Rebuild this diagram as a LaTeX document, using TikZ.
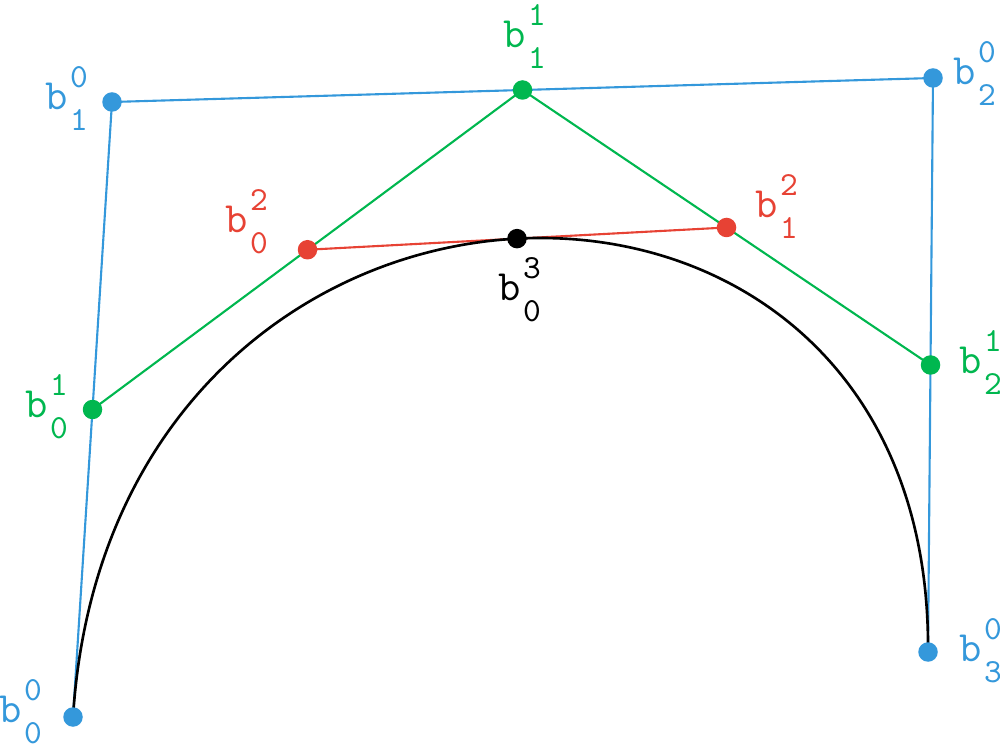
\documentclass[tikz,border=0pt]{standalone}
\usetikzlibrary{calc}
\definecolor{cblue}{RGB}{52,152,219}
\definecolor{cgreen}{RGB}{0,183,79}
\definecolor{cred}{RGB}{231,66,52}
\tikzset{
  lb/.style={font=\fontsize{12.3}{14}\selectfont\ttfamily, inner sep=0pt, anchor=base},
  sc/.style={font=\fontsize{9.6}{11}\selectfont\ttfamily, inner sep=0pt, anchor=base},
  dot/.style={circle, fill=#1, draw=none, inner sep=0pt, minimum size=19.5*0.01cm},
  seg/.style={draw=#1, line width=0.6pt},
}
\newcommand\blab[5]{%
  \node[lb,text=#5] (#1) at (#2) {b};
  \node[sc,text=#5] (#1u) at ($(#2)+(22,-22)$) {#3};
  \node[sc,text=#5] (#1d) at ($(#2)+(22,21)$) {#4};
}
\begin{document}
\begin{tikzpicture}[x=0.01cm,y=-0.01cm]
\useasboundingbox (0,0) rectangle (1000,749);
\coordinate (c00) at (73,717);
\coordinate (c10) at (112,102);
\coordinate (c20) at (933,78);
\coordinate (c30) at (928,652);
\coordinate (c01) at ($(c00)!0.5!(c10)$);
\coordinate (c11) at ($(c10)!0.5!(c20)$);
\coordinate (c21) at ($(c20)!0.5!(c30)$);
\coordinate (c02) at ($(c01)!0.5!(c11)$);
\coordinate (c12) at ($(c11)!0.5!(c21)$);
\coordinate (c03) at ($(c02)!0.5!(c12)$);
% control polygon
\draw[seg=cblue] (c00) -- (c10) -- (c20) -- (c30);
\draw[seg=cgreen] (c01) -- (c11) -- (c21);
\draw[seg=cred] (c02) -- (c12);
% curve
\draw[black, line width=0.75pt] (c00) .. controls (c10) and (c20) .. (c30);
% dots
\node[dot=cblue] (p00) at (c00) {};
\node[dot=cblue] (p10) at (c10) {};
\node[dot=cblue] (p20) at (c20) {};
\node[dot=cblue] (p30) at (c30) {};
\node[dot=cgreen] (p01) at (c01) {};
\node[dot=cgreen] (p11) at (c11) {};
\node[dot=cgreen] (p21) at (c21) {};
\node[dot=cred] (p02) at (c02) {};
\node[dot=cred] (p12) at (c12) {};
\node[dot=black] (p03) at (c03) {};
% labels
\blab{l00}{11,722}{0}{0}{cblue}
\blab{l10}{57,110}{0}{1}{cblue}
\blab{l20}{965,85}{0}{2}{cblue}
\blab{l30}{971,661}{0}{3}{cblue}
\blab{l01}{37,418}{1}{0}{cgreen}
\blab{l11}{515,48}{1}{1}{cgreen}
\blab{l21}{971,374}{1}{2}{cgreen}
\blab{l02}{237,233}{2}{0}{cred}
\blab{l12}{767,218}{2}{1}{cred}
\blab{l03}{510,301}{3}{0}{black}
\end{tikzpicture}
\end{document}
